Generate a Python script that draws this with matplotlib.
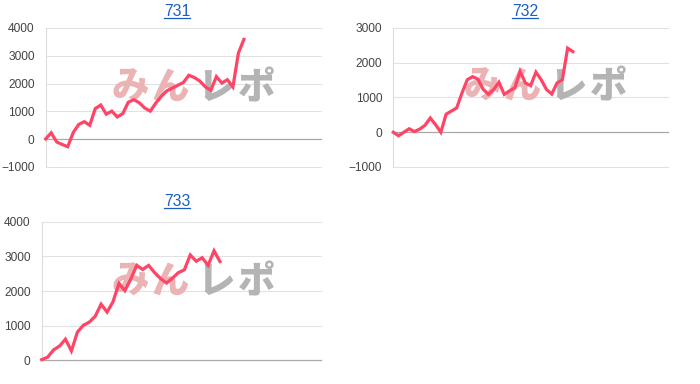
import matplotlib
matplotlib.use("Agg")
import matplotlib.pyplot as plt
from matplotlib.lines import Line2D

plt.rcParams['font.family'] = ['Liberation Sans', 'DejaVu Sans']

# ---- data ----
titles = ["731", "732", "733"]

vals_731 = [10, 230, -100, -190, -270, 240, 530, 630, 500, 1100, 1230, 900, 1010,
            800, 920, 1330, 1420, 1310, 1120, 1010, 1300, 1540, 1740, 1840, 1940,
            2040, 2300, 2220, 2090, 1880, 1760, 2250, 2020, 2140, 1880, 3100, 3590]
vals_732 = [0, -100, 0, 100, 20, 90, 200, 410, 220, 0, 520, 610, 700, 1130, 1510,
            1600, 1530, 1240, 1090, 1230, 1440, 1090, 1190, 1280, 1750, 1420, 1340,
            1730, 1510, 1230, 1100, 1420, 1510, 2420, 2320]
vals_733 = [20, 90, 300, 410, 610, 270, 810, 1010, 1100, 1270, 1620, 1390, 1690,
            2220, 2010, 2350, 2740, 2620, 2740, 2530, 2360, 2230, 2370, 2530, 2610,
            3040, 2860, 2960, 2740, 3160, 2850]

series = [vals_731, vals_732, vals_733]
x_max = [50, 52, 47]
y_ticks = [[-1000, 0, 1000, 2000, 3000, 4000],
           [-1000, 0, 1000, 2000, 3000],
           [0, 1000, 2000, 3000, 4000]]

logo_chars = ['み', 'ん', 'レ', 'ポ']
logo_colors = ['#ebb3b3', '#ebb3b3', '#b4b4b4', '#b4b4b4']

W, H = 700, 384
# plot boxes in pixels: left, top, right, bottom
boxes = [(45.7, 28, 321, 167), (393.3, 28, 668, 167), (41.7, 221.7, 321, 360.3)]
title_pos = [(177, 16), (525, 16), (177, 206)]
logo_x = [[130, 170, 216, 257], [482, 522, 568, 609], [130, 170, 216, 257]]
logo_y = [88, 87, 282]

LINE = '#ff4466'
GRID = '#e2e2e2'
BASE = '#a8a8a8'

fig = plt.figure(figsize=(7, 3.84), dpi=100)

for k in range(3):
    l, t, r, b = boxes[k]
    ax = fig.add_axes([l / W, 1 - b / H, (r - l) / W, (b - t) / H])
    vals = series[k]
    ax.plot(range(len(vals)), vals, color=LINE, lw=2.3, solid_joinstyle='miter',
            zorder=5, clip_on=False)
    ax.set_xlim(0, x_max[k])
    ax.set_ylim(y_ticks[k][0], y_ticks[k][-1])
    ax.set_yticks(y_ticks[k])
    ax.set_xticks([])
    for yv in y_ticks[k]:
        ax.axhline(yv, color=BASE if yv == 0 else GRID, lw=0.9 if yv == 0 else 0.8,
                   zorder=1 if yv != 0 else 3, clip_on=False)
    for s in ['top', 'right', 'bottom']:
        ax.spines[s].set_visible(False)
    ax.spines['left'].set_color('#dcdcdc')
    ax.spines['left'].set_linewidth(0.8)
    ax.tick_params(axis='y', length=0, pad=8, labelsize=8.6, labelcolor='#444444')

    # watermark logo, one glyph at a time
    for ch, col, px in zip(logo_chars, logo_colors, logo_x[k]):
        ax.text(px / W, 1 - logo_y[k] / H, ch, transform=fig.transFigure,
                ha='center', va='center', fontsize=27, fontweight='heavy',
                color=col, zorder=2, family=['Noto Sans CJK JP'])

# titles with underline
tts = []
for k in range(3):
    cx, by = title_pos[k]
    tts.append(fig.text(cx / W, 1 - by / H, titles[k], ha='center', va='baseline',
                        fontsize=11.3, color='#1a5dc8'))

fig.canvas.draw()
for k, tt in enumerate(tts):
    bb = tt.get_window_extent()
    cx, by = title_pos[k]
    yl = 1 - (by + 2) / H
    fig.add_artist(Line2D([bb.x0 / W, bb.x1 / W], [yl, yl], color='#1a5dc8', lw=0.9,
                          transform=fig.transFigure))

plt.savefig('out.png', dpi=100)
